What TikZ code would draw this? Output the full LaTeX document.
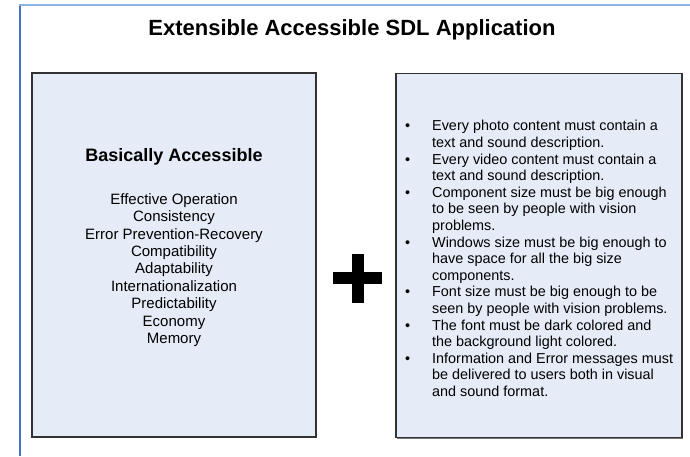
\documentclass[tikz,border=0pt]{standalone}
\usepackage{fontspec}
\setmainfont{Liberation Sans}
\definecolor{boxfill}{RGB}{230,236,247}
\definecolor{frameleft}{RGB}{68,114,196}
\definecolor{frametop}{RGB}{141,179,226}
\definecolor{boxline}{RGB}{50,50,50}
\definecolor{shadowline}{RGB}{120,120,120}
\begin{document}
\begin{tikzpicture}[x=1pt,y=-1pt,
  panel/.style={draw=boxline, line width=1.3pt, fill=boxfill, inner sep=0pt, minimum width=#1, minimum height=364pt},
  titletext/.style={font=\fontsize{22}{26}\selectfont\bfseries},
  subtext/.style={font=\fontsize{18}{21}\selectfont\bfseries},
  bodytext/.style={font=\fontsize{15}{17.4}\selectfont, align=center, inner sep=0pt},
  bullettext/.style={font=\fontsize{14.4}{16.6}\selectfont, align=left, inner sep=0pt},
  plusbar/.style={fill=black, draw=none, inner sep=0pt}]
\useasboundingbox (0,0) rectangle (690,456);
% outer frame
\draw[frameleft, line width=2pt] (20,4.5) -- (20,456);
\draw[frametop, line width=2pt] (19,5) -- (690,5);
% title
\node[titletext] (title) at (352,30) {Extensible Accessible SDL Application};
% panels
\draw[shadowline, line width=2pt] (33,437) -- (317,437);
\draw[shadowline, line width=2pt] (397,438) -- (683,438);
\node[panel=284pt] (left) at (174,255) {};
\node[panel=286pt] (right) at (539,255.5) {};
% left content
\node[subtext] (sub) at (174,157) {Basically Accessible};
\node[bodytext] (list) at (174,270) {Effective Operation\\Consistency\\Error Prevention-Recovery\\Compatibility\\Adaptability\\Internationalization\\Predictability\\Economy\\Memory};
% plus sign
\node[plusbar, minimum width=49pt, minimum height=12pt] (plush) at (357.5,278) {};
\node[plusbar, minimum width=12pt, minimum height=49pt] (plusv) at (357.5,278.5) {};
% right content
\node[bullettext, anchor=west] (items) at (432,258.5) {%
\llap{\textbullet\hspace{22pt}}Every photo content must contain a\\
text and sound description.\\
\llap{\textbullet\hspace{22pt}}Every video content must contain a\\
text and sound description.\\
\llap{\textbullet\hspace{22pt}}Component size must be big enough\\
to be seen by people with vision\\
problems.\\
\llap{\textbullet\hspace{22pt}}Windows size must be big enough to\\
have space for all the big size\\
components.\\
\llap{\textbullet\hspace{22pt}}Font size must be big enough to be\\
seen by people with vision problems.\\
\llap{\textbullet\hspace{22pt}}The font must be dark colored and\\
the background light colored.\\
\llap{\textbullet\hspace{22pt}}Information and Error messages must\\
be delivered to users both in visual\\
and sound format.};
\end{tikzpicture}
\end{document}
